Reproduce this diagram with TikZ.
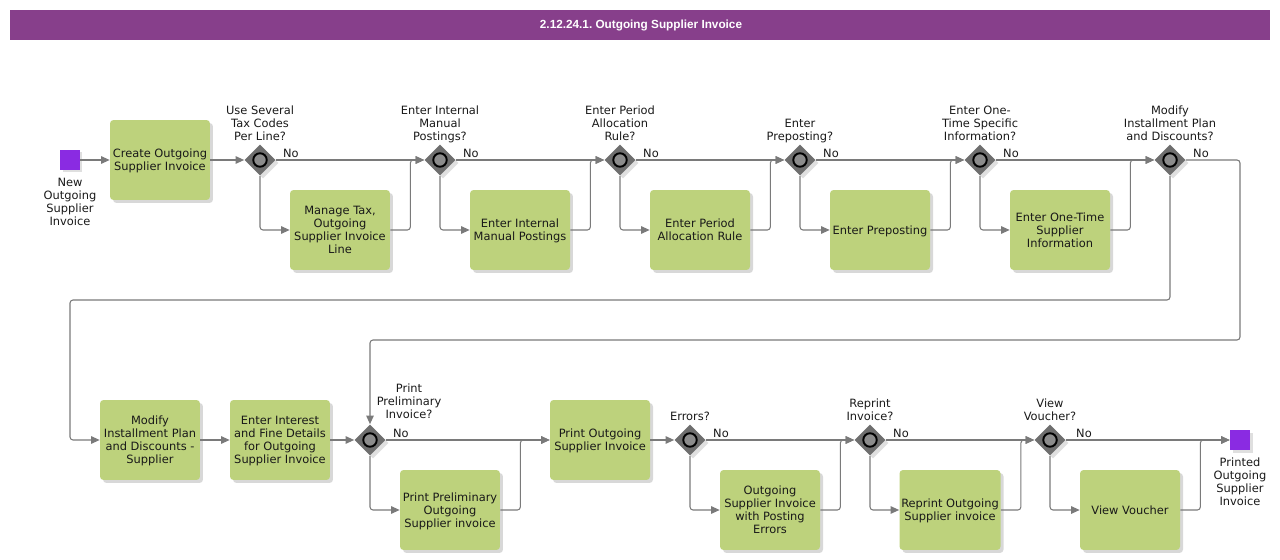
\documentclass[tikz,border=0pt]{standalone}
\usepackage{fontspec}
\setmainfont{DejaVu Sans}
\newfontfamily\titlefont{Liberation Sans}
\usepackage{tikz}
\usetikzlibrary{arrows.meta,positioning,shapes.geometric,shadows}
\definecolor{barpurple}{HTML}{873F8B}
\definecolor{taskgreen}{HTML}{BDD27C}
\definecolor{eventviolet}{HTML}{8A2BE2}
\definecolor{flowgray}{HTML}{7A7A7A}
\definecolor{gwgray}{HTML}{6E6E6E}
\definecolor{gwring}{HTML}{8C8C8C}
\frenchspacing

\begin{document}
\begin{tikzpicture}[x=0.02cm,y=-0.02cm,font=\fontsize{6.5}{7.4}\selectfont]
			\tikzstyle{task}=[rectangle,rounded corners=2pt,fill=taskgreen,text=black!90,minimum width=2cm,minimum height=1.6cm,align=center,inner sep=1pt,text depth=0pt,drop shadow={shadow xshift=0.06cm,shadow yshift=-0.06cm,fill=black!30}]
			\tikzstyle{gw}=[diamond,fill=gwgray,minimum size=0.62cm,inner sep=0pt,drop shadow={shadow xshift=0.06cm,shadow yshift=-0.06cm,fill=black!25},path picture={\draw [black,line width=1.1pt,fill=gwring] (path picture bounding box.center) circle (0.135cm);}]
			\tikzstyle{ev}=[rectangle,fill=eventviolet,minimum size=0.4cm,inner sep=0pt,drop shadow={shadow xshift=0.05cm,shadow yshift=-0.05cm,fill=black!25}]
			\tikzstyle{lbl}=[inner sep=0pt,align=center,text depth=0pt,text=black!90]
			\tikzstyle{flow}=[draw=flowgray,line width=0.6pt,rounded corners=0.06cm,-{Triangle[length=0.17cm,width=0.15cm]}]
				\useasboundingbox (0,0) rectangle (1280,560);
				% title bar
				\fill [barpurple] (10,10) rectangle (1270,40);
				\node [text=white,font=\titlefont\bfseries\fontsize{6.7}{8}\selectfont] (title) at (641,25) {2.12.24.1. Outgoing Supplier Invoice};
				% first row
				\node [ev] (ev1) at (70,160) {};
				\node [lbl,below=0.15cm of ev1] (lev1) {New\\Outgoing\\Supplier\\Invoice};
				\node [task] (t1) at (160,160) {Create Outgoing\\Supplier Invoice};
				\node [gw] (g1) at (260,160) {};
				\node [gw] (g2) at (440,160) {};
				\node [gw] (g3) at (620,160) {};
				\node [gw] (g4) at (800,160) {};
				\node [gw] (g5) at (980,160) {};
				\node [gw] (g6) at (1170,160) {};
				\node [task] (t2) at (340,230) {Manage Tax,\\Outgoing\\Supplier Invoice\\Line};
				\node [task] (t3) at (520,230) {Enter Internal\\Manual Postings};
				\node [task] (t4) at (700,230) {Enter Period\\Allocation Rule};
				\node [task] (t5) at (880,230) {Enter Preposting};
				\node [task] (t6) at (1060,230) {Enter One-Time\\Supplier\\Information};
				\node [lbl,above=0.07cm of g1] (lg1) {Use Several\\Tax Codes\\Per Line?};
				\node [lbl,above=0.07cm of g2] (lg2) {Enter Internal\\Manual\\Postings?};
				\node [lbl,above=0.07cm of g3] (lg3) {Enter Period\\Allocation\\Rule?};
				\node [lbl,above=0.07cm of g4] (lg4) {Enter\\Preposting?};
				\node [lbl,above=0.07cm of g5] (lg5) {Enter One-\\Time Specific\\Information?};
				\node [lbl,above=0.07cm of g6] (lg6) {Modify\\Installment Plan\\and Discounts?};
				% second row
				\node [task] (t7) at (150,440) {Modify\\Installment Plan\\and Discounts -\\Supplier};
				\node [task] (t8) at (280,440) {Enter Interest\\and Fine Details\\for Outgoing\\Supplier Invoice};
				\node [gw] (g7) at (370,440) {};
				\node [task] (t9) at (450,510) {Print Preliminary\\Outgoing\\Supplier invoice};
				\node [task] (t10) at (600,440) {Print Outgoing\\Supplier Invoice};
				\node [gw] (g8) at (690,440) {};
				\node [task] (t11) at (770,510) {Outgoing\\Supplier Invoice\\with Posting\\Errors};
				\node [gw] (g9) at (870,440) {};
				\node [task] (t12) at (950,510) {Reprint Outgoing\\Supplier invoice};
				\node [gw] (g10) at (1050,440) {};
				\node [task] (t13) at (1130,510) {View Voucher};
				\node [ev] (ev2) at (1240,440) {};
				\node [lbl,below=0.15cm of ev2] (lev2) {Printed\\Outgoing\\Supplier\\Invoice};
				\node [lbl,anchor=south] (lg7) at (409,419) {Print\\Preliminary\\Invoice?};
				\node [lbl,above=0.07cm of g8] (lg8) {Errors?};
				\node [lbl,above=0.07cm of g9] (lg9) {Reprint\\Invoice?};
				\node [lbl,above=0.07cm of g10] (lg10) {View\\Voucher?};
				% "No" labels
				\node [lbl,anchor=south west,above right=0.05cm and 0.14cm of g1.east] (n1) {No};
				\node [lbl,anchor=south west,above right=0.05cm and 0.14cm of g2.east] (n2) {No};
				\node [lbl,anchor=south west,above right=0.05cm and 0.14cm of g3.east] (n3) {No};
				\node [lbl,anchor=south west,above right=0.05cm and 0.14cm of g4.east] (n4) {No};
				\node [lbl,anchor=south west,above right=0.05cm and 0.14cm of g5.east] (n5) {No};
				\node [lbl,anchor=south west,above right=0.05cm and 0.14cm of g6.east] (n6) {No};
				\node [lbl,anchor=south west,above right=0.05cm and 0.14cm of g7.east] (n7) {No};
				\node [lbl,anchor=south west,above right=0.05cm and 0.14cm of g8.east] (n8) {No};
				\node [lbl,anchor=south west,above right=0.05cm and 0.14cm of g9.east] (n9) {No};
				\node [lbl,anchor=south west,above right=0.05cm and 0.2cm of g10.east] (n10) {No};
				% flows, first row
				\draw [flow] (ev1) -- (t1);
				\draw [flow] (t1) -- (g1);
				\draw [flow] (g1) -- (g2);
				\draw [flow] (g2) -- (g3);
				\draw [flow] (g3) -- (g4);
				\draw [flow] (g4) -- (g5);
				\draw [flow] (g5) -- (g6);
				\draw [flow] (g1.south) |- (t2.west);
				\draw [flow] (g2.south) |- (t3.west);
				\draw [flow] (g3.south) |- (t4.west);
				\draw [flow] (g4.south) |- (t5.west);
				\draw [flow] (g5.south) |- (t6.west);
				\draw [flow] (t2.east) -- ++(20,0) |- (g2.west);
				\draw [flow] (t3.east) -- ++(20,0) |- (g3.west);
				\draw [flow] (t4.east) -- ++(20,0) |- (g4.west);
				\draw [flow] (t5.east) -- ++(20,0) |- (g5.west);
				\draw [flow] (t6.east) -- ++(20,0) |- (g6.west);
				% flows between rows
				\draw [flow] (g6.east) -| (1240,340) -| (g7.north);
				\draw [flow] (g6.south) |- (70,300) |- (t7.west);
				% flows, second row
				\draw [flow] (t7) -- (t8);
				\draw [flow] (t8) -- (g7);
				\draw [flow] (g7) -- (t10);
				\draw [flow] (t10) -- (g8);
				\draw [flow] (g8) -- (g9);
				\draw [flow] (g9) -- (g10);
				\draw [flow] (g10) -- (ev2);
				\draw [flow] (g7.south) |- (t9.west);
				\draw [flow] (g8.south) |- (t11.west);
				\draw [flow] (g9.south) |- (t12.west);
				\draw [flow] (g10.south) |- (t13.west);
				\draw [flow] (t9.east) -- ++(20,0) |- (t10.west);
				\draw [flow] (t11.east) -- ++(20,0) |- (g9.west);
				\draw [flow] (t12.east) -- ++(20,0) |- (g10.west);
				\draw [flow] (t13.east) -- ++(20,0) |- (ev2.west);
	\end{tikzpicture}
\end{document}
